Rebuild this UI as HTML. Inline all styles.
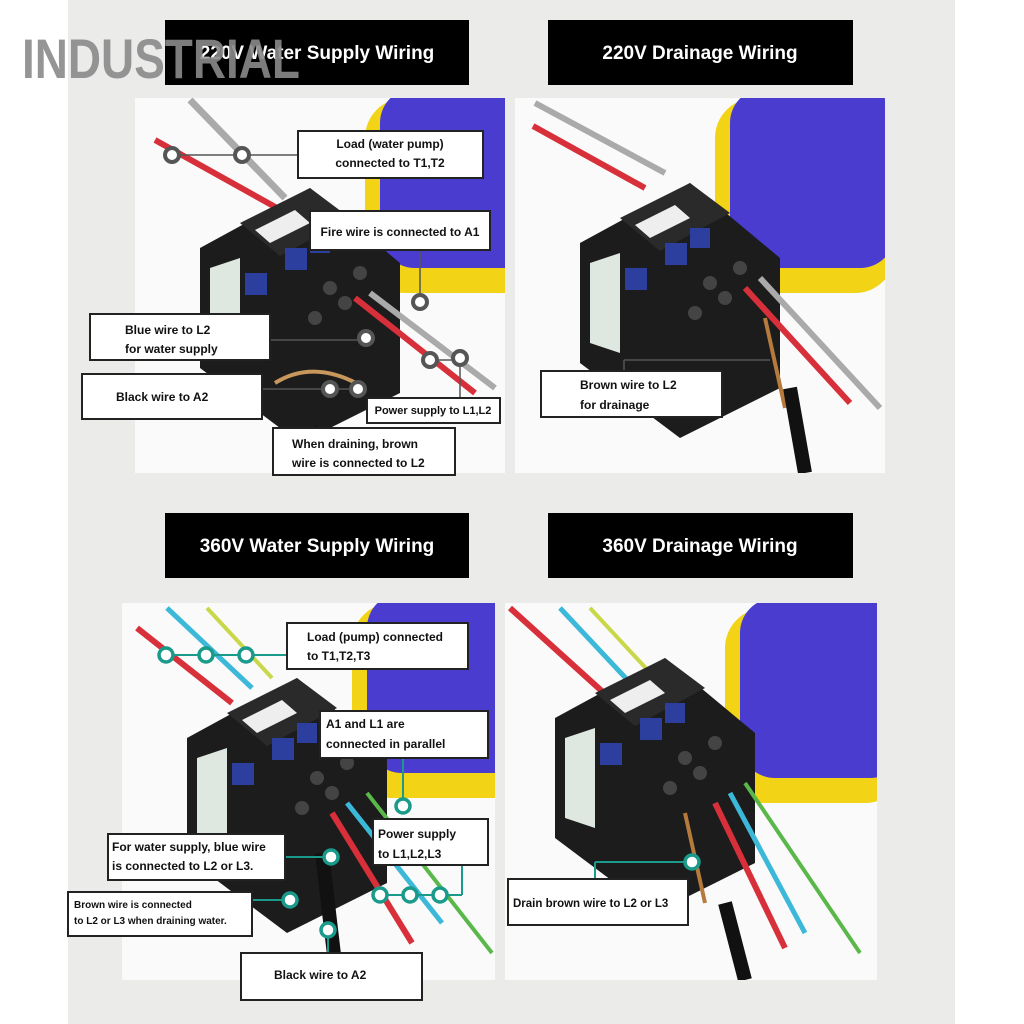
<!DOCTYPE html>
<html><head><meta charset="utf-8"><style>
html,body{margin:0;padding:0;background:#fff;}
svg{display:block}
text{font-family:"Liberation Sans","DejaVu Sans",sans-serif;}
.t{font-size:19px;font-weight:bold;fill:#fff}
.l{font-size:12px;font-weight:bold;fill:#111}
.s{font-size:10px;font-weight:bold;fill:#111}
</style></head><body>
<svg width="1024" height="1024" viewBox="0 0 1024 1024" xmlns="http://www.w3.org/2000/svg">
<defs>
<g id="cont">
 <polygon points="0,70 110,10 200,85 200,215 100,265 0,190" fill="#1c1c1c"/>
 <polygon points="40,45 110,10 150,40 80,78" fill="#2a2a2a"/>
 <polygon points="55,52 95,32 110,45 70,65" fill="#eee"/>
 <rect x="45" y="95" width="22" height="22" fill="#2d3f9e"/>
 <rect x="85" y="70" width="22" height="22" fill="#2d3f9e"/>
 <rect x="110" y="55" width="20" height="20" fill="#2d3f9e"/>
 <polygon points="10,90 40,80 40,180 10,170" fill="#dfe8e0"/>
 <circle cx="130" cy="110" r="7" fill="#444"/><circle cx="160" cy="95" r="7" fill="#444"/>
 <circle cx="115" cy="140" r="7" fill="#444"/><circle cx="145" cy="125" r="7" fill="#444"/>
</g>
<g id="flt">
 <rect x="0" y="0" width="180" height="195" rx="40" fill="#f2d316"/>
 <rect x="15" y="-10" width="165" height="180" rx="35" fill="#4a3ccf"/>
</g>
</defs>
<rect x="0" y="0" width="1024" height="1024" fill="#fff"/>
<rect x="68" y="0" width="887" height="1024" fill="#ebebea"/>

<rect x="135" y="98" width="370" height="375" fill="#fafafa"/>
<rect x="515" y="98" width="370" height="375" fill="#fafafa"/>
<rect x="122" y="603" width="373" height="377" fill="#fafafa"/>
<rect x="505" y="603" width="372" height="377" fill="#fafafa"/>

<svg x="135" y="98" width="370" height="375">
 <use href="#flt" x="230" y="0"/>
 <line x1="55" y1="2" x2="150" y2="100" stroke="#aaa" stroke-width="7"/>
 <line x1="20" y1="42" x2="160" y2="120" stroke="#d8303a" stroke-width="6"/>
 <use href="#cont" x="65" y="80"/>
 <path d="M140,285 Q180,260 230,290" stroke="#c8975c" stroke-width="4" fill="none"/>
 <line x1="220" y1="200" x2="340" y2="295" stroke="#d8303a" stroke-width="6"/>
 <line x1="235" y1="195" x2="360" y2="290" stroke="#aaa" stroke-width="6"/>
 <line x1="175" y1="330" x2="190" y2="375" stroke="#111" stroke-width="14"/>
</svg>
<svg x="515" y="98" width="370" height="375">
 <use href="#flt" x="200" y="0"/>
 <line x1="20" y1="5" x2="150" y2="75" stroke="#aaa" stroke-width="6"/>
 <line x1="18" y1="28" x2="130" y2="90" stroke="#d8303a" stroke-width="6"/>
 <use href="#cont" x="65" y="75"/>
 <line x1="230" y1="190" x2="335" y2="305" stroke="#d8303a" stroke-width="6"/>
 <line x1="245" y1="180" x2="365" y2="310" stroke="#aaa" stroke-width="6"/>
 <line x1="250" y1="220" x2="270" y2="310" stroke="#b57a3c" stroke-width="4"/>
 <line x1="275" y1="290" x2="290" y2="375" stroke="#111" stroke-width="14"/>
</svg>
<svg x="122" y="603" width="373" height="377">
 <use href="#flt" x="230" y="0"/>
 <line x1="15" y1="25" x2="110" y2="100" stroke="#d8303a" stroke-width="6"/>
 <line x1="45" y1="5" x2="130" y2="85" stroke="#3cb8d8" stroke-width="5"/>
 <line x1="85" y1="5" x2="150" y2="75" stroke="#c8d848" stroke-width="4"/>
 <use href="#cont" x="65" y="65"/>
 <line x1="210" y1="210" x2="290" y2="340" stroke="#d8303a" stroke-width="6"/>
 <line x1="225" y1="200" x2="320" y2="320" stroke="#3cb8d8" stroke-width="5"/>
 <line x1="245" y1="190" x2="370" y2="350" stroke="#5ab84a" stroke-width="4"/>
 <line x1="200" y1="250" x2="215" y2="377" stroke="#111" stroke-width="14"/>
</svg>
<svg x="505" y="603" width="372" height="377">
 <use href="#flt" x="220" y="5"/>
 <line x1="5" y1="5" x2="110" y2="100" stroke="#d8303a" stroke-width="6"/>
 <line x1="55" y1="5" x2="130" y2="85" stroke="#3cb8d8" stroke-width="5"/>
 <line x1="85" y1="5" x2="150" y2="75" stroke="#c8d848" stroke-width="4"/>
 <use href="#cont" x="50" y="45"/>
 <line x1="210" y1="200" x2="280" y2="345" stroke="#d8303a" stroke-width="6"/>
 <line x1="225" y1="190" x2="300" y2="330" stroke="#3cb8d8" stroke-width="5"/>
 <line x1="240" y1="180" x2="355" y2="350" stroke="#5ab84a" stroke-width="4"/>
 <line x1="180" y1="210" x2="200" y2="300" stroke="#b57a3c" stroke-width="4"/>
 <line x1="220" y1="300" x2="240" y2="377" stroke="#111" stroke-width="14"/>
</svg>

<rect x="165" y="20" width="304" height="65" fill="#000"/>
<text class="t" x="317" y="59" text-anchor="middle">220V Water Supply Wiring</text>
<rect x="548" y="20" width="305" height="65" fill="#000"/>
<text class="t" x="700" y="59" text-anchor="middle">220V Drainage Wiring</text>
<rect x="165" y="513" width="304" height="65" fill="#000"/>
<text class="t" x="317" y="552" text-anchor="middle">360V Water Supply Wiring</text>
<rect x="548" y="513" width="305" height="65" fill="#000"/>
<text class="t" x="700" y="552" text-anchor="middle">360V Drainage Wiring</text>

<text x="22" y="78" font-size="56" font-weight="bold" fill="#8a8a8a" fill-opacity="0.9" transform="translate(22,0) scale(0.82,1) translate(-22,0)">INDUSTRIAL</text>

<g stroke="#555" stroke-width="1.5" fill="none">
 <line x1="172" y1="155" x2="298" y2="155"/>
 <line x1="420" y1="250" x2="420" y2="302"/>
 <line x1="270" y1="340" x2="365" y2="340"/>
 <line x1="262" y1="389" x2="355" y2="389"/>
 <line x1="430" y1="360" x2="460" y2="360"/><line x1="460" y1="360" x2="460" y2="398"/>
 <line x1="624" y1="371" x2="624" y2="360"/><line x1="624" y1="360" x2="770" y2="360"/>
</g>
<g stroke="#1a9a8a" stroke-width="2" fill="none">
 <line x1="165" y1="655" x2="287" y2="655"/>
 <line x1="403" y1="758" x2="403" y2="806"/>
 <line x1="285" y1="857" x2="330" y2="857"/>
 <line x1="252" y1="900" x2="290" y2="900"/>
 <line x1="380" y1="895" x2="462" y2="895"/><line x1="462" y1="865" x2="462" y2="895"/>
 <line x1="328" y1="935" x2="328" y2="953"/>
 <line x1="595" y1="879" x2="595" y2="862"/><line x1="595" y1="862" x2="692" y2="862"/>
</g>
<g fill="#fff" stroke="#555" stroke-width="4">
 <circle cx="172" cy="155" r="7"/><circle cx="242" cy="155" r="7"/>
 <circle cx="420" cy="302" r="7"/><circle cx="366" cy="338" r="7"/>
 <circle cx="430" cy="360" r="7"/><circle cx="460" cy="358" r="7"/>
 <circle cx="330" cy="389" r="7"/><circle cx="358" cy="389" r="7"/>
</g>
<g fill="#fff" stroke="#1a9a8a" stroke-width="3.5">
 <circle cx="166" cy="655" r="7"/><circle cx="206" cy="655" r="7"/><circle cx="246" cy="655" r="7"/>
 <circle cx="403" cy="806" r="7"/><circle cx="331" cy="857" r="7"/>
 <circle cx="290" cy="900" r="7"/><circle cx="380" cy="895" r="7"/><circle cx="410" cy="895" r="7"/><circle cx="440" cy="895" r="7"/>
 <circle cx="328" cy="930" r="7"/><circle cx="692" cy="862" r="7"/>
</g>

<g fill="#fff" stroke="#222" stroke-width="2">
 <rect x="298" y="131" width="185" height="47"/>
 <rect x="310" y="211" width="180" height="39"/>
 <rect x="90" y="314" width="180" height="46"/>
 <rect x="82" y="374" width="180" height="45"/>
 <rect x="367" y="398" width="133" height="25"/>
 <rect x="273" y="428" width="182" height="47"/>
 <rect x="541" y="371" width="181" height="46"/>
 <rect x="287" y="623" width="181" height="46"/>
 <rect x="320" y="711" width="168" height="47"/>
 <rect x="108" y="834" width="177" height="46"/>
 <rect x="373" y="819" width="115" height="46"/>
 <rect x="68" y="892" width="184" height="44"/>
 <rect x="241" y="953" width="181" height="47"/>
 <rect x="508" y="879" width="180" height="46"/>
</g>
<text class="l" x="390" y="148" text-anchor="middle">Load (water pump)</text>
<text class="l" x="390" y="167" text-anchor="middle">connected to T1,T2</text>
<text class="l" x="400" y="236" text-anchor="middle">Fire wire is connected to A1</text>
<text class="l" x="125" y="334">Blue wire to L2</text>
<text class="l" x="125" y="353">for water supply</text>
<text class="l" x="116" y="401">Black wire to A2</text>
<text class="s" x="433" y="414" text-anchor="middle" style="font-size:11px">Power supply to L1,L2</text>
<text class="l" x="292" y="448">When draining, brown</text>
<text class="l" x="292" y="467">wire is connected to L2</text>
<text class="l" x="580" y="389">Brown wire to L2</text>
<text class="l" x="580" y="409">for drainage</text>
<text class="l" x="307" y="641">Load (pump) connected</text>
<text class="l" x="307" y="660">to T1,T2,T3</text>
<text class="l" x="326" y="728">A1 and L1 are</text>
<text class="l" x="326" y="748">connected in parallel</text>
<text class="l" x="112" y="851">For water supply, blue wire</text>
<text class="l" x="112" y="870">is connected to L2 or L3.</text>
<text class="l" x="378" y="838">Power supply</text>
<text class="l" x="378" y="858">to L1,L2,L3</text>
<text class="s" x="74" y="908">Brown wire is connected</text>
<text class="s" x="74" y="924">to L2 or L3 when draining water.</text>
<text class="l" x="274" y="979">Black wire to A2</text>
<text class="s" x="513" y="907" style="font-size:11.5px">Drain brown wire to L2 or L3</text>
</svg>
</body></html>
